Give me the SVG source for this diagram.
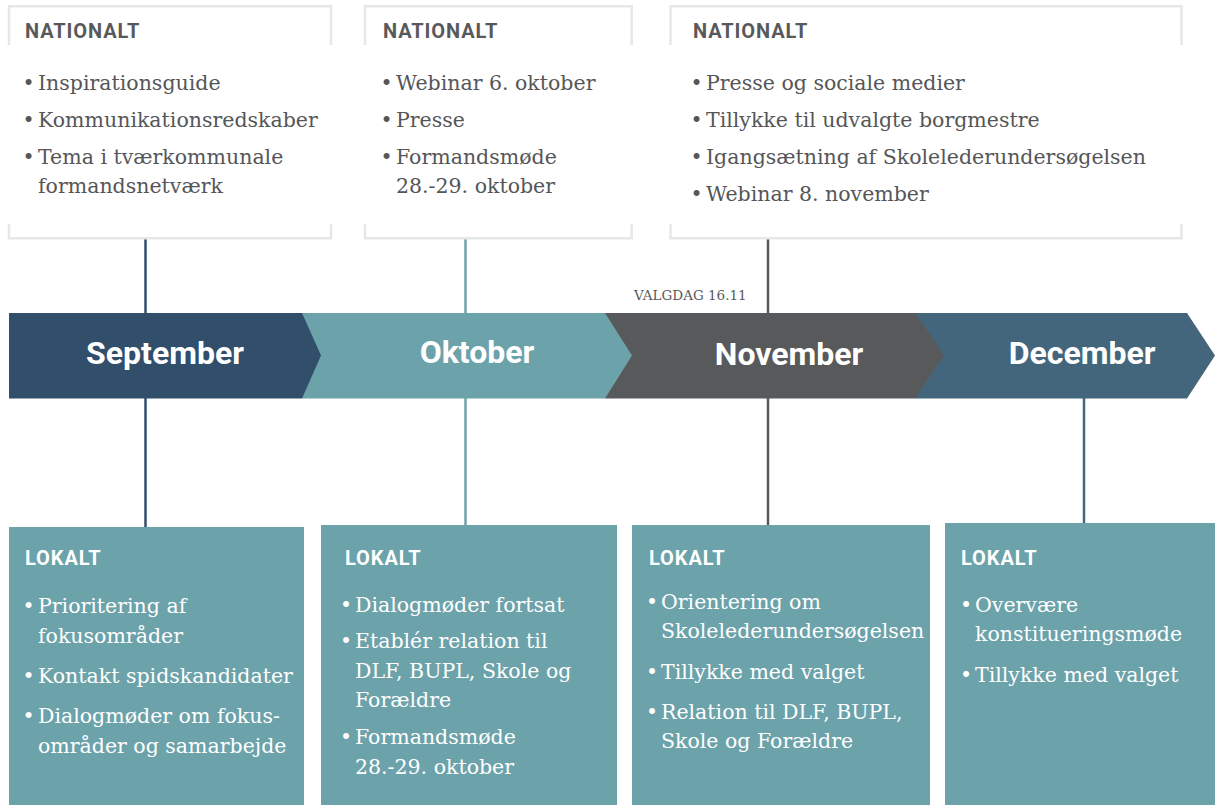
<svg xmlns="http://www.w3.org/2000/svg" width="1215" height="805" viewBox="0 0 1215 805">
<style>
.frame{fill:none;stroke:#e6e7e8;stroke-width:2.5}
.hd{font-family:Roboto,"Liberation Sans",sans-serif;font-weight:700;font-size:20px;letter-spacing:0.9px}
.hdn{fill:#58595b}
.hdl{fill:#ffffff}
.it{font-family:"DejaVu Serif","Liberation Serif",serif;font-size:20.5px}
.itn{fill:#555658}
.itl{fill:#ffffff}
.mo{font-family:Roboto,"Liberation Sans",sans-serif;font-weight:700;font-size:32px;fill:#ffffff;text-anchor:middle}
.lokbox{fill:#6ca2aa}
.con{stroke-width:2.5;fill:none}
.small{font-family:"DejaVu Serif","Liberation Serif",serif;font-size:13.5px;fill:#58595b}
</style>

<g id="connectors">
  <line class="con" x1="145.5" y1="239" x2="145.5" y2="313" stroke="#314e6b"/>
  <line class="con" x1="145.5" y1="398" x2="145.5" y2="527" stroke="#314e6b"/>
  <line class="con" x1="465.5" y1="239" x2="465.5" y2="313" stroke="#6ca2aa"/>
  <line class="con" x1="465.5" y1="398" x2="465.5" y2="525" stroke="#6ca2aa"/>
  <line class="con" x1="768" y1="239" x2="768" y2="313" stroke="#58595b"/>
  <line class="con" x1="768" y1="398" x2="768" y2="525" stroke="#58595b"/>
  <line class="con" x1="1084" y1="398" x2="1084" y2="523" stroke="#44667c"/>
</g>

<g id="national-sep">
  <path class="frame" d="M9,45 V6.2 H331 V45 M9,224 V238.3 H331 V224"/>
  <text class="hd hdn" x="25" y="38">NATIONALT</text>
  <g class="it itn">
    <text x="22.5" y="90">•</text><text x="38" y="90">Inspirationsguide</text>
    <text x="22.5" y="127">•</text><text x="38" y="127">Kommunikationsredskaber</text>
    <text x="22.5" y="164">•</text><text x="38" y="164">Tema i tværkommunale</text>
    <text x="38" y="193">formandsnetværk</text>
  </g>
</g>

<g id="national-okt">
  <path class="frame" d="M365,45 V6.2 H631.7 V45 M365,224 V238.3 H631.7 V224"/>
  <text class="hd hdn" x="383" y="38">NATIONALT</text>
  <g class="it itn">
    <text x="380.5" y="90">•</text><text x="396" y="90">Webinar 6. oktober</text>
    <text x="380.5" y="127">•</text><text x="396" y="127">Presse</text>
    <text x="380.5" y="164">•</text><text x="396" y="164">Formandsmøde</text>
    <text x="396" y="193">28.-29. oktober</text>
  </g>
</g>

<g id="national-nov">
  <path class="frame" d="M670.5,45 V6.2 H1181.5 V45 M670.5,224 V238.3 H1181.5 V224"/>
  <text class="hd hdn" x="693" y="38">NATIONALT</text>
  <g class="it itn">
    <text x="690.5" y="90">•</text><text x="706" y="90">Presse og sociale medier</text>
    <text x="690.5" y="127">•</text><text x="706" y="127">Tillykke til udvalgte borgmestre</text>
    <text x="690.5" y="164">•</text><text x="706" y="164">Igangsætning af Skolelederundersøgelsen</text>
    <text x="690.5" y="201">•</text><text x="706" y="201">Webinar 8. november</text>
  </g>
</g>

<text id="valgdag" class="small" x="634" y="300">VALGDAG 16.11</text>

<g id="month-dec">
  <polygon points="915,313 1187,313 1215,355.5 1187,398.5 915,398.5" fill="#44667c"/>
  <text class="mo" x="1082" y="364">December</text>
</g>
<g id="month-nov">
  <polygon points="605,313 915,313 944,355.5 915,398.5 605,398.5" fill="#58595b"/>
  <text class="mo" x="789" y="365">November</text>
</g>
<g id="month-okt">
  <polygon points="302,313 605,313 632,355.5 605,398.5 302,398.5" fill="#6ca2aa"/>
  <text class="mo" x="477" y="363">Oktober</text>
</g>
<g id="month-sep">
  <polygon points="9,313 302,313 321,355.5 302,398.5 9,398.5" fill="#314e6b"/>
  <text class="mo" x="165" y="364">September</text>
</g>

<g id="lokal-sep">
  <rect class="lokbox" x="9" y="527" width="295" height="278"/>
  <text class="hd hdl" x="25" y="565">LOKALT</text>
  <g class="it itl">
    <text x="22.5" y="613">•</text><text x="38" y="613">Prioritering af</text>
    <text x="38" y="643">fokusområder</text>
    <text x="22.5" y="683">•</text><text x="38" y="683">Kontakt spidskandidater</text>
    <text x="22.5" y="723">•</text><text x="38" y="723">Dialogmøder om fokus-</text>
    <text x="38" y="753">områder og samarbejde</text>
  </g>
</g>

<g id="lokal-okt">
  <rect class="lokbox" x="321" y="525" width="296" height="280"/>
  <text class="hd hdl" x="345" y="565">LOKALT</text>
  <g class="it itl">
    <text x="340" y="612">•</text><text x="355" y="612">Dialogmøder fortsat</text>
    <text x="340" y="648">•</text><text x="355" y="648">Etablér relation til</text>
    <text x="355" y="678">DLF, BUPL, Skole og</text>
    <text x="355" y="707">Forældre</text>
    <text x="340" y="744">•</text><text x="355" y="744">Formandsmøde</text>
    <text x="355" y="774">28.-29. oktober</text>
  </g>
</g>

<g id="lokal-nov">
  <rect class="lokbox" x="632" y="525" width="298" height="280"/>
  <text class="hd hdl" x="649" y="565">LOKALT</text>
  <g class="it itl">
    <text x="646" y="609">•</text><text x="661" y="609">Orientering om</text>
    <text x="661" y="638">Skolelederundersøgelsen</text>
    <text x="646" y="679">•</text><text x="661" y="679">Tillykke med valget</text>
    <text x="646" y="719">•</text><text x="661" y="719">Relation til DLF, BUPL,</text>
    <text x="661" y="748">Skole og Forældre</text>
  </g>
</g>

<g id="lokal-dec">
  <rect class="lokbox" x="945" y="523" width="270" height="282"/>
  <text class="hd hdl" x="961" y="565">LOKALT</text>
  <g class="it itl">
    <text x="960" y="612">•</text><text x="975" y="612">Overvære</text>
    <text x="975" y="641">konstitueringsmøde</text>
    <text x="960" y="682">•</text><text x="975" y="682">Tillykke med valget</text>
  </g>
</g>
</svg>
